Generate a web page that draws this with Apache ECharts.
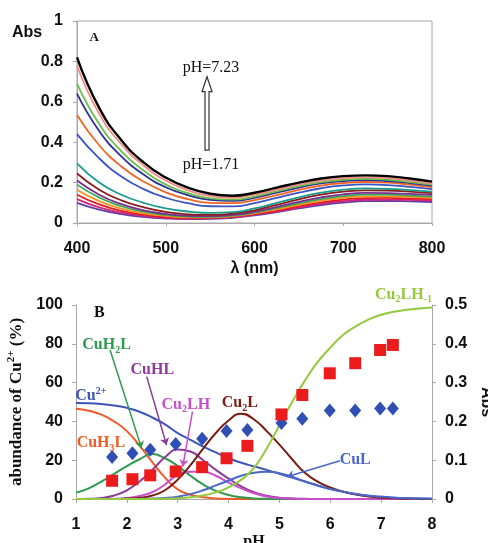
<!DOCTYPE html>
<html>
<head>
<meta charset="utf-8">
<script src="https://cdn.jsdelivr.net/npm/echarts/dist/echarts.min.js"></script>
<style>
html, body { margin: 0; padding: 0; background: #fff; }
#chart { width: 488px; height: 543px; }
</style>
</head>
<body>
<div id="chart"></div>
<script>
// ---- panel A : spectra from pH 1.71 (bottom) to pH 7.23 (top) ----
const wavelengths = [400, 425, 450, 475, 500, 525, 550, 575, 600, 625, 650, 675, 700, 725, 750, 775, 800]
const spectra = [
  [0.10, 0.066, 0.044, 0.030, 0.022, 0.019, 0.020, 0.026, 0.038, 0.054, 0.072, 0.089, 0.101, 0.108, 0.109, 0.107, 0.104],
  [0.118, 0.077, 0.051, 0.035, 0.026, 0.022, 0.023, 0.029, 0.041, 0.058, 0.077, 0.095, 0.108, 0.115, 0.116, 0.114, 0.111],
  [0.14, 0.092, 0.060, 0.041, 0.030, 0.025, 0.025, 0.031, 0.044, 0.062, 0.083, 0.102, 0.116, 0.123, 0.124, 0.121, 0.118],
  [0.165, 0.108, 0.071, 0.048, 0.035, 0.028, 0.028, 0.034, 0.048, 0.068, 0.090, 0.110, 0.125, 0.132, 0.132, 0.129, 0.125],
  [0.19, 0.126, 0.083, 0.056, 0.040, 0.032, 0.031, 0.037, 0.052, 0.074, 0.097, 0.118, 0.133, 0.140, 0.140, 0.136, 0.131],
  [0.21, 0.140, 0.093, 0.063, 0.045, 0.036, 0.034, 0.040, 0.056, 0.080, 0.105, 0.127, 0.142, 0.149, 0.148, 0.144, 0.139],
  [0.245, 0.165, 0.112, 0.078, 0.055, 0.043, 0.040, 0.046, 0.063, 0.090, 0.117, 0.140, 0.155, 0.162, 0.161, 0.155, 0.148],
  [0.295, 0.200, 0.140, 0.100, 0.072, 0.057, 0.050, 0.054, 0.072, 0.100, 0.127, 0.150, 0.165, 0.171, 0.169, 0.163, 0.155],
  [0.44, 0.320, 0.230, 0.168, 0.125, 0.098, 0.083, 0.082, 0.098, 0.124, 0.150, 0.172, 0.186, 0.191, 0.188, 0.179, 0.168],
  [0.535, 0.385, 0.280, 0.205, 0.152, 0.118, 0.100, 0.098, 0.113, 0.138, 0.164, 0.185, 0.198, 0.203, 0.200, 0.190, 0.178],
  [0.64, 0.455, 0.330, 0.240, 0.177, 0.138, 0.115, 0.110, 0.125, 0.150, 0.175, 0.196, 0.208, 0.212, 0.208, 0.198, 0.185],
  [0.69, 0.490, 0.355, 0.260, 0.190, 0.148, 0.122, 0.116, 0.131, 0.157, 0.182, 0.202, 0.214, 0.218, 0.214, 0.203, 0.190],
  [0.78, 0.540, 0.390, 0.285, 0.210, 0.162, 0.133, 0.125, 0.140, 0.165, 0.190, 0.210, 0.222, 0.226, 0.222, 0.210, 0.195],
  [0.82, 0.570, 0.410, 0.300, 0.225, 0.175, 0.145, 0.135, 0.150, 0.175, 0.200, 0.220, 0.232, 0.236, 0.232, 0.220, 0.205]
]
const spectraColors = ['#5b3fa8', '#d4237a', '#e31b23', '#f7941d', '#3aa655', '#7b2d91', '#8c1d1d',
  '#1a9c8c', '#3b55c4', '#f26522', '#2e3192', '#6abf4b', '#f08c80', '#000000']

// ---- panel B : species distribution + absorbances ----
const phGrid = [1, 1.25, 1.5, 1.75, 2, 2.25, 2.5, 2.75, 3, 3.25, 3.5, 3.75, 4, 4.25, 4.5, 4.75,
  5, 5.25, 5.5, 5.75, 6, 6.25, 6.5, 6.75, 7, 7.25, 7.5, 7.75, 8]
const cuFree = [49.5, 49.4, 49, 48.2, 47, 45, 42, 38.5, 34, 30.5, 27, 24, 21, 18.7, 16.8, 15, 13, 11, 9, 7, 5.2, 3.8, 2.6, 1.7, 1.1, 0.7, 0.4, 0.2, 0.1]
const cuH3L = [46.5, 45.5, 43.5, 40, 35, 27.5, 19, 11, 5, 2.2, 0.9, 0.3, 0.1, 0, 0, 0, 0, 0, 0, 0, 0, 0, 0, 0, 0, 0, 0, 0, 0]
const cuH2L = [3.3, 5.5, 9, 13, 17, 20.5, 23.2, 21, 17, 12, 7.5, 4.2, 2.1, 0.9, 0.3, 0.1, 0, 0, 0, 0, 0, 0, 0, 0, 0, 0, 0, 0, 0]
const cuHL = [0, 0.1, 0.5, 1.8, 4.5, 9, 15, 21.5, 25.5, 24.5, 20, 15, 10.5, 6.5, 3.5, 1.7, 0.7, 0.3, 0.1, 0, 0, 0, 0, 0, 0, 0, 0, 0, 0]
const cu2LH = [0, 0, 0, 0.1, 0.5, 1.5, 3.5, 7.5, 12.5, 14, 14, 12, 8.5, 5.5, 3, 1.3, 0.5, 0.2, 0, 0, 0, 0, 0, 0, 0, 0, 0, 0, 0]
const cu2L = [0, 0, 0, 0, 0.2, 0.6, 1.8, 4.5, 10, 17.5, 26, 34, 40.5, 44, 41, 35, 28, 20.5, 13.5, 9, 6, 3.8, 2.3, 1.3, 0.7, 0.35, 0.15, 0.05, 0]
const cuL = [0, 0, 0, 0, 0, 0.05, 0.2, 0.5, 1.2, 2.5, 4.5, 7, 9.5, 12, 13.5, 14, 13.3, 11.5, 9, 7, 5.2, 3.8, 2.6, 1.7, 1.1, 0.7, 0.4, 0.2, 0.1]
const cu2LHm1 = [0, 0, 0, 0, 0, 0, 0.05, 0.15, 0.4, 0.9, 1.8, 3.4, 6, 10, 16, 26, 38, 50, 61, 70.5, 78, 84.5, 89, 92.5, 95, 96.5, 97.5, 98.2, 98.7]

const absPH = [1.71, 2.11, 2.46, 2.96, 3.48, 3.96, 4.37, 5.04, 5.45, 5.99, 6.49, 6.98, 7.23]
const absDiamond = [0.108, 0.118, 0.127, 0.142, 0.155, 0.175, 0.178, 0.196, 0.207, 0.228, 0.228, 0.233, 0.233]
const absSquare = [0.047, 0.051, 0.061, 0.071, 0.082, 0.105, 0.137, 0.218, 0.268, 0.324, 0.350, 0.384, 0.397]

const SANS = 'Liberation Sans'
const SERIF = 'Liberation Serif'
const AXIS_GRAY = '#a8a8a8'

const chart = echarts.init(document.getElementById('chart'))

const tickLabel = { color: '#111', fontFamily: SANS, fontWeight: 'bold', fontSize: 16 }
const richName = {
  n: { fontFamily: SERIF, fontWeight: 'bold', fontSize: 17, color: '#111', lineHeight: 22 },
  p: { fontFamily: SERIF, fontWeight: 'bold', fontSize: 11, color: '#111', verticalAlign: 'top', lineHeight: 11 }
}

const pairs = (xs, ys) => xs.map((x, i) => [x, ys[i]])

const spectraSeries = spectra.map((vals, i) => ({
  type: 'line',
  xAxisIndex: 0,
  yAxisIndex: 0,
  data: pairs(wavelengths, vals),
  smooth: true,
  showSymbol: false,
  lineStyle: { color: spectraColors[i], width: i === spectra.length - 1 ? 2.4 : 1.8 },
  z: 2 + i
}))

const arrowLine = (color, from, to) => ({
  silent: true,
  symbol: ['none', 'arrow'],
  symbolSize: 7,
  label: { show: false },
  lineStyle: { color, width: 1.5, type: 'solid' },
  data: [[{ coord: from }, { coord: to }]]
})

const speciesLine = (name, ys, color, extra) => Object.assign({
  name,
  type: 'line',
  xAxisIndex: 1,
  yAxisIndex: 1,
  data: pairs(phGrid, ys),
  smooth: true,
  showSymbol: false,
  lineStyle: { color, width: 2 },
  z: 3
}, extra || {})

const speciesSeries = [
  speciesLine('Cu2+', cuFree, '#3d55b8'),
  speciesLine('CuH3L', cuH3L, '#f15a29'),
  speciesLine('CuH2L', cuH2L, '#2e9a4e', { markLine: arrowLine('#2e9a4e', [1.67, 76.8], [2.29, 26.1]) }),
  speciesLine('CuHL', cuHL, '#8e3a9b', { markLine: arrowLine('#8e3a9b', [2.39, 63.1], [2.78, 27.8]) }),
  speciesLine('Cu2LH', cu2LH, '#c94fc9', { markLine: arrowLine('#c94fc9', [3.29, 45], [3.10, 16.7]) }),
  speciesLine('Cu2L', cu2L, '#7b1c12'),
  speciesLine('CuL', cuL, '#4a67c8', { markLine: arrowLine('#4a67c8', [6.19, 19.7], [5.15, 11.5]) }),
  speciesLine('Cu2LH-1', cu2LHm1, '#94c83d')
]

const scatterSeries = [
  {
    type: 'scatter', xAxisIndex: 1, yAxisIndex: 2,
    data: pairs(absPH, absDiamond),
    symbol: 'diamond', symbolSize: [12, 14],
    itemStyle: { color: '#2f4fb5', opacity: 1 }, z: 5
  },
  {
    type: 'scatter', xAxisIndex: 1, yAxisIndex: 2,
    data: pairs(absPH, absSquare),
    symbol: 'rect', symbolSize: 12,
    itemStyle: { color: '#ec1c1c', opacity: 1 }, z: 6
  }
]

chart.setOption({
  animation: false,
  backgroundColor: '#fff',
  grid: [
    { left: 77, top: 21, width: 355, height: 202, show: true, borderColor: AXIS_GRAY, borderWidth: 1, outerBoundsMode: 'none' },
    { left: 76, top: 305, width: 356, height: 194, outerBoundsMode: 'none' }
  ],
  xAxis: [
    {
      gridIndex: 0, type: 'value', min: 400, max: 800, interval: 100,
      name: 'λ (nm)', nameLocation: 'middle', nameGap: 38,
      nameTextStyle: { color: '#111', fontFamily: SANS, fontWeight: 'bold', fontSize: 16 },
      axisLine: { show: true, onZero: false, lineStyle: { color: AXIS_GRAY } },
      axisTick: { show: true, length: 3, lineStyle: { color: AXIS_GRAY } },
      axisLabel: Object.assign({ margin: 18 }, tickLabel),
      splitLine: { show: false }
    },
    {
      gridIndex: 1, type: 'value', min: 1, max: 8, interval: 1,
      name: 'pH', nameLocation: 'middle', nameGap: 27,
      nameTextStyle: { color: '#111', fontFamily: SERIF, fontWeight: 'bold', fontSize: 16 },
      axisLine: { show: true, onZero: false, lineStyle: { color: AXIS_GRAY } },
      axisTick: { show: true, length: 4, lineStyle: { color: AXIS_GRAY } },
      axisLabel: Object.assign({ margin: 18 }, tickLabel),
      splitLine: { show: false }
    }
  ],
  yAxis: [
    {
      gridIndex: 0, type: 'value', min: 0, max: 1, interval: 0.2,
      axisLine: { show: true, lineStyle: { color: AXIS_GRAY } },
      axisTick: { show: true, length: 4, lineStyle: { color: AXIS_GRAY } },
      axisLabel: Object.assign({ margin: 14, formatter: v => String(+v.toFixed(1)) }, tickLabel),
      splitLine: { show: false }
    },
    {
      gridIndex: 1, type: 'value', min: 0, max: 100, interval: 20,
      name: '{n|abundance of Cu}{p|2+}{n| (%)}', nameLocation: 'middle', nameGap: 37,
      nameTextStyle: { rich: richName },
      axisLine: { show: true, lineStyle: { color: AXIS_GRAY } },
      axisTick: { show: true, length: 4, lineStyle: { color: AXIS_GRAY } },
      axisLabel: Object.assign({ margin: 13 }, tickLabel),
      splitLine: { show: false }
    },
    {
      gridIndex: 1, type: 'value', position: 'right', min: 0, max: 0.5, interval: 0.1,
      name: 'Abs', nameLocation: 'middle', nameGap: 41, nameRotate: -90,
      nameTextStyle: { color: '#111', fontFamily: SANS, fontWeight: 'bold', fontSize: 16 },
      axisLine: { show: true, lineStyle: { color: AXIS_GRAY } },
      axisTick: { show: true, length: 4, lineStyle: { color: AXIS_GRAY } },
      axisLabel: Object.assign({ margin: 13, formatter: v => String(+v.toFixed(1)) }, tickLabel),
      splitLine: { show: false }
    }
  ],
  series: spectraSeries.concat(speciesSeries, scatterSeries)
})

// ---- annotations placed from data coordinates ----
const serifRich = color => ({
  n: { fontFamily: SERIF, fontWeight: 'bold', fontSize: 16, fill: color, lineHeight: 20, verticalAlign: 'middle' },
  s: { fontFamily: SERIF, fontWeight: 'bold', fontSize: 10, fill: color, lineHeight: 10, verticalAlign: 'bottom' },
  p: { fontFamily: SERIF, fontWeight: 'bold', fontSize: 10, fill: color, lineHeight: 10, verticalAlign: 'top' }
})

const speciesLabels = [
  { text: '{n|CuH}{s|2}{n|L}', at: [1.60, 79.4], color: '#2e9a4e' },
  { text: '{n|CuHL}', at: [2.50, 66.8], color: '#8e3a9b' },
  { text: '{n|Cu}{s|2}{n|LH}', at: [3.16, 48.5], color: '#c94fc9' },
  { text: '{n|Cu}{s|2}{n|L}', at: [4.22, 49.3], color: '#7b1c12' },
  { text: '{n|Cu}{p|2+}', at: [1.29, 53.1], color: '#3d55b8' },
  { text: '{n|CuH}{s|3}{n|L}', at: [1.49, 28.7], color: '#f15a29' },
  { text: '{n|CuL}', at: [6.49, 20.1], color: '#4a67c8' },
  { text: '{n|Cu}{s|2}{n|LH}{s|-1}', at: [7.44, 105.2], color: '#94c83d' },
  { text: '{n|B}', at: [1.46, 95.7], color: '#111' }
]

const toB = p => chart.convertToPixel({ xAxisIndex: 1, yAxisIndex: 1 }, p)
const toA = p => chart.convertToPixel({ xAxisIndex: 0, yAxisIndex: 0 }, p)

const graphics = speciesLabels.map(l => {
  const [x, y] = toB(l.at)
  return {
    type: 'text', x, y, z: 20,
    style: { text: l.text, rich: serifRich(l.color), align: 'center', verticalAlign: 'middle' }
  }
})

// panel A texts
const aTexts = [
  { text: 'A', at: [419.5, 0.917], font: { fontFamily: SERIF, fontWeight: 'bold', fontSize: 13 } },
  { text: 'pH=7.23', at: [551, 0.766], font: { fontFamily: SERIF, fontSize: 16 } },
  { text: 'pH=1.71', at: [551, 0.287], font: { fontFamily: SERIF, fontSize: 16 } }
]
aTexts.forEach(t => {
  const [x, y] = toA(t.at)
  graphics.push({
    type: 'text', x, y, z: 20,
    style: Object.assign({ text: t.text, fill: '#111', align: 'center', verticalAlign: 'middle' }, t.font)
  })
})

// hollow arrow pointing up
const [ax, tipY] = toA([546.5, 0.724])
const headY = toA([546.5, 0.65])[1]
const tailY = toA([546.5, 0.361])[1]
graphics.push({
  type: 'polygon', z: 20,
  shape: {
    points: [[ax, tipY], [ax + 5, headY], [ax + 2, headY], [ax + 2, tailY],
      [ax - 2, tailY], [ax - 2, headY], [ax - 5, headY]]
  },
  style: { fill: '#fff', stroke: '#333', lineWidth: 1.2 }
})

// "Abs" title of panel A
graphics.push({
  type: 'text', left: 12, top: 25, z: 20,
  style: { text: 'Abs', fill: '#111', fontFamily: SANS, fontWeight: 'bold', fontSize: 16 }
})

chart.setOption({ graphic: graphics })
</script>
</body>
</html>
